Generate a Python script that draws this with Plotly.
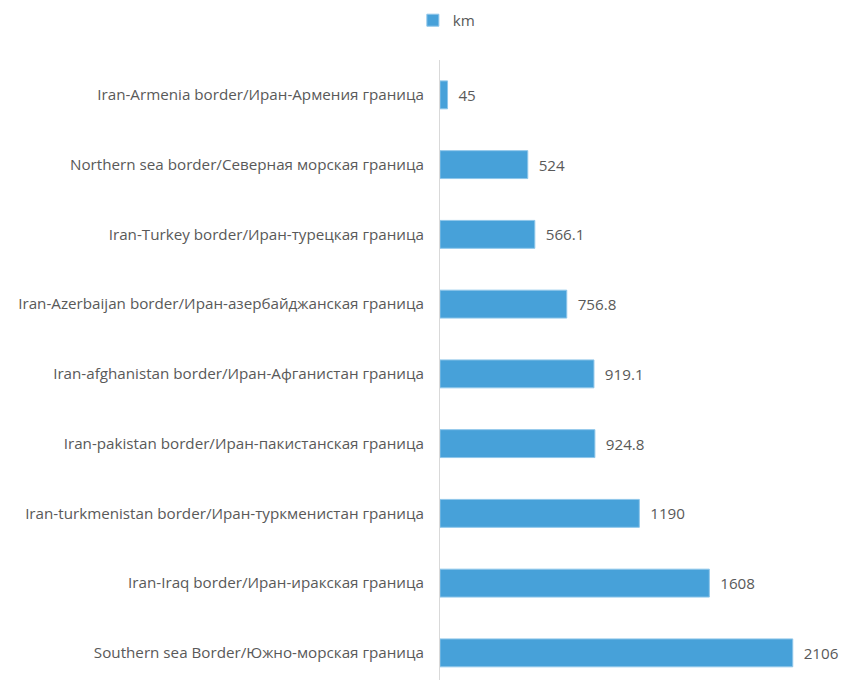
import plotly.graph_objects as go

categories = [
    "Southern sea Border/Южно-морская граница",
    "Iran-Iraq border/Иран-иракская граница",
    "Iran-turkmenistan border/Иран-туркменистан граница",
    "Iran-pakistan border/Иран-пакистанская граница",
    "Iran-afghanistan border/Иран-Афганистан граница",
    "Iran-Azerbaijan border/Иран-азербайджанская граница",
    "Iran-Turkey border/Иран-турецкая граница",
    "Northern sea border/Северная морская граница",
    "Iran-Armenia border/Иран-Армения граница",
]
values = [2106, 1608, 1190, 924.8, 919.1, 756.8, 566.1, 524, 45]
labels = ["2106", "1608", "1190", "924.8", "919.1", "756.8", "566.1", "524", "45"]
series_name = "km"

FS = 15.2

fig = go.Figure()
fig.add_trace(go.Bar(
    x=values, y=categories, orientation="h", name=series_name,
    marker=dict(color="#47A1D9", line=dict(color="#8EC6EA", width=1)),
    text=["  " + t for t in labels], textposition="outside",
    textfont=dict(size=FS, color="#595959", family="Open Sans"),
    cliponaxis=False, width=0.4,
))
fig.update_layout(
    width=842, height=680,
    margin=dict(l=440, r=0, t=60, b=0, autoexpand=False),
    paper_bgcolor="white", plot_bgcolor="white",
    font=dict(family="Open Sans", size=FS, color="#595959"),
    showlegend=True,
    legend=dict(orientation="h", x=-0.0675, xanchor="left", y=1.064, yanchor="middle",
                font=dict(size=FS, color="#595959"), itemwidth=30,
                bgcolor="rgba(0,0,0,0)"),
    xaxis=dict(range=[0, 2400], showgrid=False, zeroline=False, showticklabels=False,
               showline=False, fixedrange=True, automargin=False),
    yaxis=dict(range=[-0.389, 8.5], showgrid=False, zeroline=False, showline=True,
               linecolor="#D9D9D9", linewidth=1, ticks="", ticklabelstandoff=12,
               automargin=False,
               tickfont=dict(size=FS, color="#595959", family="Open Sans")),
)
fig.write_html("out.html", config={"displayModeBar": False},
               post_script="document.body.style.margin='0';")
